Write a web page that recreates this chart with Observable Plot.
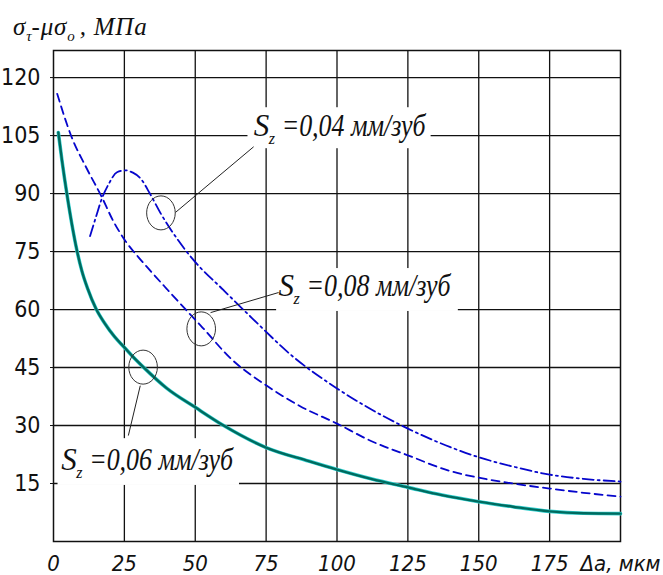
<!DOCTYPE html>
<html><head><meta charset="utf-8">
<script src="https://cdn.jsdelivr.net/npm/d3@7"></script>
<script src="https://cdn.jsdelivr.net/npm/@observablehq/plot@0.6"></script>
<style>
body{margin:0;background:#fff;}
#wrap{position:relative;width:663px;height:575px;overflow:hidden;}
#title{position:absolute;left:13px;top:14px;z-index:2;font-style:italic;font-size:25px;letter-spacing:0.8px;line-height:1;white-space:nowrap;color:#111;}
#title sub{font-size:15px;vertical-align:-6px;line-height:0;letter-spacing:0;}
#title sub.o{margin-right:5px;}
</style></head><body>
<div id="wrap"><div id="title">σ<sub>τ</sub>-μσ<sub class="o">o</sub>, МПа</div></div>
<script>
// ticks
const xTicks = [0, 25, 50, 75, 100, 125, 150, 175];
const xUnitTick = 200;
const xUnitLabel = "Δa, мкм";
const yTicks = [15, 30, 45, 60, 75, 90, 105, 120];

// S_z = 0,04 мм/зуб (dash-dot)
const s04x = [12.9, 15, 17, 19.5, 22.4, 25.3, 28, 30.6, 34, 37.7, 43.6, 49.5, 60, 70, 85, 100, 112, 125, 140, 150, 162, 175, 187, 200];
const s04y = [79, 84, 88.6, 92.5, 95.5, 96, 95.4, 94, 90, 85, 78.3, 72.7, 65, 57.8, 47.5, 39.6, 34.2, 29.2, 24.4, 21.8, 19.4, 17.3, 16.2, 15.5];
// S_z = 0,08 мм/зуб (dashed)
const s08x = [1.3, 6.4, 11.5, 17.1, 21, 25.3, 30, 34.2, 40, 47, 52, 63, 75, 87, 100, 112, 125, 140, 150, 162, 175, 187, 200];
const s08y = [115.8, 104.6, 96.8, 89, 83, 77.8, 73.5, 70, 65.3, 59.7, 55.8, 47, 40.4, 35, 30.5, 26, 22.3, 18.2, 16.5, 15, 13.7, 12.6, 11.6];
// S_z = 0,06 мм/зуб (solid)
const s06x = [1.7, 3, 4.7, 6.5, 8.2, 10, 12, 15, 18, 21.5, 25, 28, 31.7, 40, 50, 60, 75, 90, 100, 112, 125, 137, 150, 162, 175, 187, 200];
const s06y = [105.8, 98.5, 90, 82, 75.5, 70, 65.5, 60.2, 56.5, 53, 50.2, 47.8, 45.1, 39.6, 34.7, 30, 24.3, 20.8, 18.6, 16.2, 14, 12, 10.3, 9, 7.8, 7.3, 7.2];

// annotations (data coordinates)
const labelText = ["=0,04 мм/зуб", "=0,08 мм/зуб", "=0,06 мм/зуб"];
const labelX = [70.6, 79.4, 2.7];
const labelY = [105.0, 63.6, 18.4];
const boxX1 = [68.6, 78.7, 1.6], boxX2 = [133.2, 142.8, 65.6];
const boxY1 = [101.6, 59.5, 14.5], boxY2 = [112.2, 70.6, 26.6];
const leadX1 = [70.6, 79.4, 26.4], leadY1 = [102.1, 64.4, 27.4];
const leadX2 = [43.0, 55.4, 30.6], leadY2 = [85.1, 59.2, 40.3];
const ringX = [37.9, 52.1, 31.6], ringY = [85.0, 55.0, 45.1];

// font detection
const cv = document.createElement("canvas").getContext("2d");
function has(f, style) {
  const s = "S=0,04 мм/зуб 120 σμ МПа";
  cv.font = `${style} 30px "${f}", monospace`; const w1 = cv.measureText(s).width;
  cv.font = `${style} 30px "${f}", sans-serif`; const w2 = cv.measureText(s).width;
  return Math.abs(w1 - w2) < 0.01;
}
const pick = (list, style) => list.find(f => has(f, style)) || list[list.length - 1];
const serifName = pick(["Liberation Serif", "DejaVu Serif", "Noto Serif", "Tinos", "Times New Roman", "Liberation Sans"], "italic");
const narrowName = pick(["Liberation Sans Narrow", "Arial Narrow", "DejaVu Sans Condensed", "Roboto Condensed", "Liberation Sans"], "normal");
const serif = `"${serifName}", serif`;
const narrow = `"${narrowName}", sans-serif`;
document.getElementById("title").style.fontFamily = serif;

const rows = (xs, ys) => xs.map((x, i) => ({x, y: ys[i]}));
const ann = labelText.map((t, i) => ({
  t, x: labelX[i], y: labelY[i],
  bx1: boxX1[i], bx2: boxX2[i], by1: boxY1[i], by2: boxY2[i],
  lx1: leadX1[i], ly1: leadY1[i], lx2: leadX2[i], ly2: leadY2[i],
  rx: ringX[i], ry: ringY[i]
}));

const ellipse = {
  draw(ctx) {
    const a = 14.3, b = 17, k = 0.5523;
    ctx.moveTo(a, 0);
    ctx.bezierCurveTo(a, b * k, a * k, b, 0, b);
    ctx.bezierCurveTo(-a * k, b, -a, b * k, -a, 0);
    ctx.bezierCurveTo(-a, -b * k, -a * k, -b, 0, -b);
    ctx.bezierCurveTo(a * k, -b, a, -b * k, a, 0);
    ctx.closePath();
  }
};

const svg = Plot.plot({
  width: 663, height: 575,
  marginLeft: 53, marginRight: 43, marginTop: 50, marginBottom: 34,
  x: {domain: [0, 200]},
  y: {domain: [0, 127]},
  style: {background: "white", color: "#111"},
  marks: [
    Plot.ruleX(xTicks.slice(1), {stroke: "#111", strokeWidth: 1.3, strokeOpacity: 1}),
    Plot.ruleY(yTicks, {stroke: "#111", strokeWidth: 1.3, strokeOpacity: 1}),
    Plot.rect(ann, {x1: "bx1", x2: "bx2", y1: "by1", y2: "by2", fill: "white"}),
    Plot.frame({stroke: "#111", strokeWidth: 1.5}),
    Plot.line(rows(s06x, s06y), {x: "x", y: "y", curve: "monotone-x", stroke: "#2fd0d0", strokeWidth: 3.6}),
    Plot.line(rows(s06x, s06y), {x: "x", y: "y", curve: "monotone-x", stroke: "#006a5e", strokeWidth: 2.4}),
    Plot.line(rows(s08x, s08y), {x: "x", y: "y", curve: "monotone-x", stroke: "#0606cc", strokeWidth: 1.8, strokeDasharray: "8,5"}),
    Plot.line(rows(s04x, s04y), {x: "x", y: "y", curve: "monotone-x", stroke: "#0606cc", strokeWidth: 1.8, strokeDasharray: "11,4,2,4"}),
    Plot.link(ann, {x1: "lx1", y1: "ly1", x2: "lx2", y2: "ly2", stroke: "#222", strokeWidth: 1}),
    Plot.dot(ann, {x: "rx", y: "ry", symbol: ellipse, r: 15, stroke: "#333", strokeWidth: 1, fill: "none"}),
    Plot.text(ann, {x: "x", y: "y", text: () => "S", textAnchor: "start", lineAnchor: "bottom", fontSize: 31, fontStyle: "italic", fontFamily: serif, fill: "#111"}),
    Plot.text(ann, {x: "x", y: "y", text: () => "z", dx: 15, dy: 8, textAnchor: "start", lineAnchor: "bottom", fontSize: 16, fontStyle: "italic", fontFamily: serif, fill: "#111"}),
    Plot.text(ann, {x: "x", y: "y", text: "t", dx: 28, textAnchor: "start", lineAnchor: "bottom", fontSize: 31, fontStyle: "italic", fontFamily: serif, fill: "#111"}),
    Plot.axisX([...xTicks, xUnitTick], {tickSize: 0, tickPadding: 14, label: null, tickFormat: d => d === xUnitTick ? xUnitLabel : String(d), fontSize: 22, fontStyle: "italic", fontFamily: narrow}),
    Plot.axisY(yTicks, {tickSize: 3, tickPadding: 10, label: null, fontSize: 23, fontFamily: narrow})
  ]
});

const sel = d3.select(svg);
sel.selectAll("text")
  .filter(function () { return labelText.includes(this.textContent); })
  .attr("textLength", 144).attr("lengthAdjust", "spacingAndGlyphs");
// condensed tick labels
sel.selectAll("text")
  .filter(function () { return /^\d+$/.test(this.textContent) && yTicks.includes(+this.textContent) && this.getAttribute("text-anchor") === "end"; })
  .attr("textLength", function () { return this.textContent.length * 10.5; }).attr("lengthAdjust", "spacingAndGlyphs");

document.getElementById("wrap").prepend(svg);
</script>
</body></html>
